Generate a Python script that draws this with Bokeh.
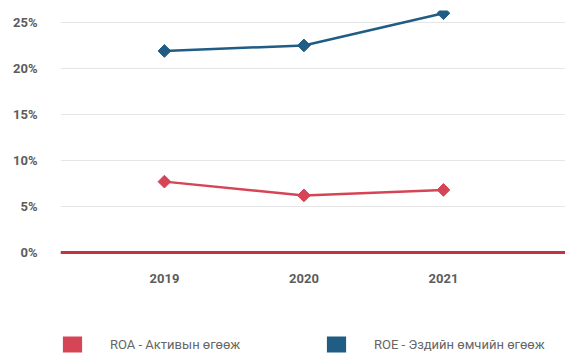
import math
from bokeh.plotting import figure
from bokeh.layouts import column
from bokeh.models import FixedTicker, Span, Legend, LegendItem, Range1d
from bokeh.embed import file_html
from bokeh.resources import INLINE

years = [2019, 2020, 2021]
roa = [7.7, 6.2, 6.8]
roe = [21.9, 22.5, 26.0]
y_ticks = [0, 5, 10, 15, 20, 25]
y_tick_labels = ["0%", "5%", "10%", "15%", "20%", "25%"]
x_tick_labels = ["2019", "2020", "2021"]
series_names = ["ROA - Активын өгөөж", "ROE - Эздийн өмчийн өгөөж"]

ROA_COLOR = "#d64556"
ROE_COLOR = "#1f5d85"
ZERO_COLOR = "#c4313f"

p = figure(width=565, height=322, output_backend="svg", toolbar_location=None,
           x_range=Range1d(2018.255, 2021.875), y_range=Range1d(-1.09, 26.30),
           min_border_left=60, min_border_right=0, min_border_top=10,
           min_border_bottom=60)
p.outline_line_color = None
p.background_fill_color = "white"

# grid
p.xgrid.grid_line_color = None
p.ygrid.grid_line_color = "#e6e6e6"
p.ygrid.grid_line_width = 1
p.ygrid.ticker = FixedTicker(ticks=y_ticks)

# zero line
p.add_layout(Span(location=0, dimension="width", line_color=ZERO_COLOR, line_width=3))

# series
p.line(years, roa, line_color=ROA_COLOR, line_width=2.5)
p.scatter(years, roa, marker="square", angle=math.pi / 4, size=9,
          fill_color=ROA_COLOR, line_color=ROA_COLOR)
p.line(years, roe, line_color=ROE_COLOR, line_width=2.5)
p.scatter(years, roe, marker="square", angle=math.pi / 4, size=9,
          fill_color=ROE_COLOR, line_color=ROE_COLOR)

# axes
p.yaxis.ticker = FixedTicker(ticks=y_ticks)
p.yaxis.major_label_overrides = {t: l for t, l in zip(y_ticks, y_tick_labels)}
p.xaxis.ticker = FixedTicker(ticks=years)
p.xaxis.major_label_overrides = {t: l for t, l in zip(years, x_tick_labels)}
for ax in (p.xaxis[0], p.yaxis[0]):
    ax.axis_line_color = None
    ax.major_tick_line_color = None
    ax.minor_tick_line_color = None
    ax.major_label_text_font = "Roboto"
    ax.major_label_text_font_style = "bold"
    ax.major_label_text_font_size = "13px"
    ax.major_label_text_color = "#5c5c5c"
p.yaxis.major_label_standoff = 17
p.xaxis.major_label_standoff = 5

# legend figure (square swatches); its bars lie outside its visible range
lf = figure(width=565, height=32, output_backend="svg", toolbar_location=None,
            x_range=Range1d(0, 1), y_range=Range1d(0, 1),
            x_axis_location=None, y_axis_location=None,
            min_border_left=0, min_border_right=0, min_border_top=0,
            min_border_bottom=0)
lf.outline_line_color = None
lf.grid.visible = False
r1 = lf.vbar(x=years, top=roa, width=0.5, fill_color=ROA_COLOR, line_color=None)
r2 = lf.vbar(x=years, top=roe, width=0.5, fill_color=ROE_COLOR, line_color=None)
legend = Legend(items=[LegendItem(label=series_names[0], renderers=[r1]),
                       LegendItem(label=series_names[1], renderers=[r2])],
                location=(0, 0), orientation="horizontal")
legend.border_line_color = None
legend.background_fill_alpha = 0
legend.padding = 0
legend.margin = 0
legend.spacing = 20
legend.glyph_width = 24
legend.glyph_height = 20
legend.label_height = 20
legend.label_standoff = 26
legend.label_width = 194
legend.label_text_font = "Roboto"
legend.label_text_font_size = "13px"
legend.label_text_color = "#666666"
lf.add_layout(legend)

layout = column(p, lf, spacing=0)
open("out.html", "w").write(file_html(layout, INLINE))
